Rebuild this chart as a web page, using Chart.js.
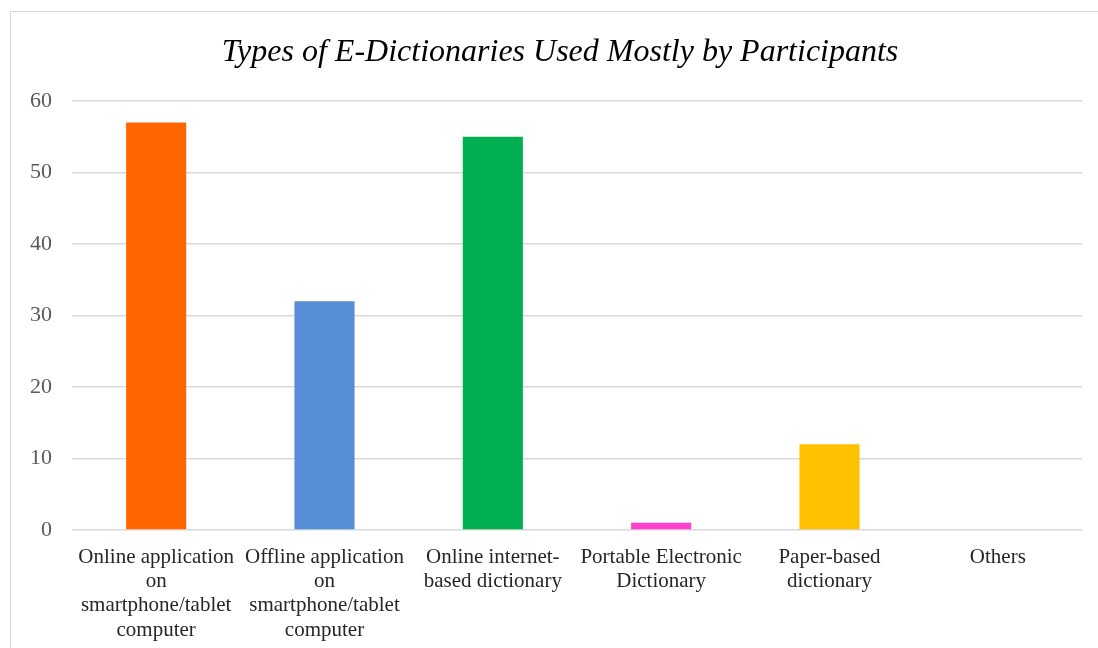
<!DOCTYPE html>
<html>
<head>
<meta charset="utf-8">
<script src="https://cdn.jsdelivr.net/npm/chart.js@4.4.0/dist/chart.umd.min.js"></script>
<style>
    body { margin: 0; background: #fff; }
    #wrap { position: relative; width: 1098px; height: 648px; overflow: hidden; }
    #frame { position: absolute; left: 10px; top: 11px; width: 1200px; height: 800px; border: 1.5px solid #d9d9d9; }
    canvas { position: absolute; left: 0; top: 0; }
</style>
</head>
<body>
<div id="wrap">
    <div id="frame"></div>
    <canvas id="dictChart" width="1098" height="648"></canvas>
</div>
<script>
const categories = [
    ['Online application', 'on', 'smartphone/tablet', 'computer'],
    ['Offline application', 'on', 'smartphone/tablet', 'computer'],
    ['Online internet-', 'based dictionary'],
    ['Portable Electronic', 'Dictionary'],
    ['Paper-based', 'dictionary'],
    ['Others']
];
const counts = [57, 32, 55, 1, 12, 0];
const barColors = ['#FF6600', '#558ED5', '#00B050', '#FF40CF', '#FFC000', '#A5A5A5'];
const yTicks = [0, 10, 20, 30, 40, 50, 60];

const serif = '"Liberation Serif", "Times New Roman", serif';
const ctx = document.getElementById('dictChart').getContext('2d');

const dictChart = new Chart(ctx, {
    type: 'bar',
    data: {
        labels: categories,
        datasets: [{
            label: 'Participants',
            data: counts,
            backgroundColor: barColors,
            borderWidth: 0,
            barPercentage: 0.357,
            categoryPercentage: 1
        }]
    },
    options: {
        responsive: false,
        animation: false,
        layout: {
            padding: { left: 22, right: 0, top: 0, bottom: 0 }
        },
        plugins: {
            legend: { display: false },
            tooltip: { enabled: false },
            title: {
                display: true,
                text: 'Types of E-Dictionaries Used Mostly by Participants',
                color: '#000',
                font: { family: serif, size: 32, style: 'italic', weight: 'normal' },
                padding: { top: 33, bottom: 29.6 }
            }
        },
        scales: {
            x: {
                grid: { display: false },
                border: { display: false },
                ticks: {
                    color: '#262626',
                    font: { family: serif, size: 21, lineHeight: 1.16 },
                    maxRotation: 0,
                    autoSkip: false,
                    padding: 7
                },
                afterFit: function(scale) { scale.height = 118; }
            },
            y: {
                min: 0,
                max: 60,
                afterBuildTicks: function(scale) {
                    scale.ticks = yTicks.map(v => ({ value: v }));
                },
                grid: { color: '#d9d9d9', lineWidth: 1.5, drawTicks: false },
                border: { display: false },
                ticks: {
                    color: '#595959',
                    font: { family: serif, size: 22 },
                    padding: 20
                },
                afterFit: function(scale) { scale.width = 50; }
            },
            // empty right-hand axis that only reserves the margin after the grid
            yRight: {
                position: 'right',
                grid: { display: false, drawTicks: false },
                border: { display: false },
                ticks: { display: false },
                afterFit: function(scale) { scale.width = 16; }
            }
        }
    }
});
</script>
</body>
</html>
